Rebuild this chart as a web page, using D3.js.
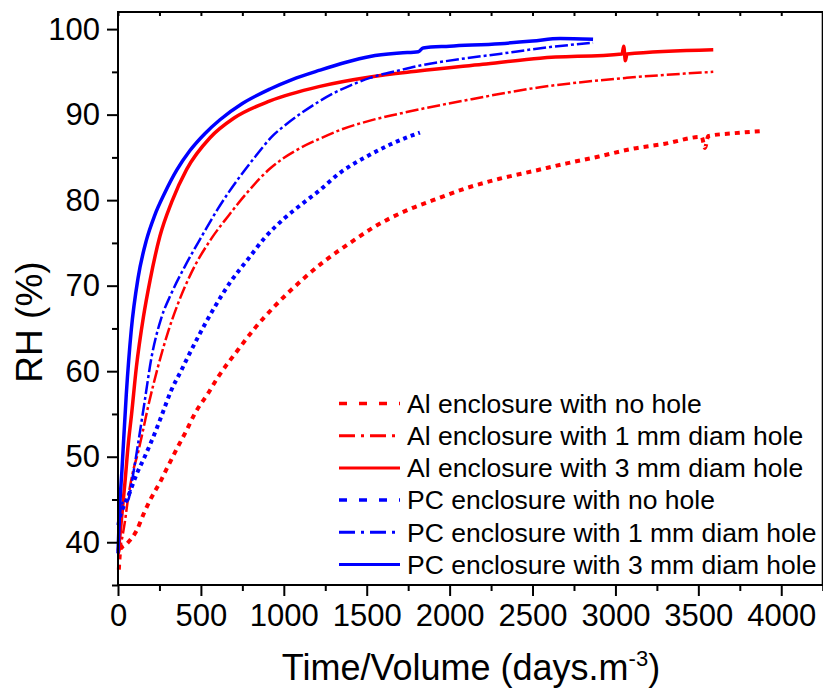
<!DOCTYPE html>
<html>
<head>
<meta charset="utf-8">
<title>RH vs Time/Volume</title>
<script src="https://cdn.jsdelivr.net/npm/d3@7"></script>
<style>
  body { margin: 0; background: #fff; }
  svg { display: block; font-family: "Liberation Sans", Arial, sans-serif; }
</style>
</head>
<body>
<div id="chart"></div>
<script>
// data: time/volume (days.m-3) and RH (%)
var alNoHoleT  = [5, 15, 52, 113, 161, 193, 261, 294, 362, 414, 462, 543, 603, 724, 824, 945, 1106, 1247, 1407, 1548, 1741, 1900, 2100, 2300, 2505, 2706, 2900, 3100, 3300, 3520, 3540, 3560, 3700, 3900];
var alNoHoleRH = [36.8, 39.2, 39.8, 41.4, 43.6, 44.9, 47.3, 48.6, 51.2, 53.1, 55.0, 57.4, 59.3, 62.5, 65.0, 67.6, 70.6, 72.9, 75.1, 76.9, 78.8, 80.0, 81.4, 82.5, 83.4, 84.3, 85.1, 86.0, 86.6, 87.4, 86.1, 87.5, 87.8, 88.1];

var al1mmT  = [2, 20, 40, 62, 92, 121, 150, 181, 241, 302, 362, 442, 563, 663, 784, 917, 997, 1100, 1218, 1339, 1520, 1741, 2103, 2545, 3068, 3590];
var al1mmRH = [38.5, 40.0, 42.2, 45.3, 48.4, 50.5, 53.0, 55.8, 60.5, 64.6, 67.9, 71.5, 75.5, 78.1, 81.0, 83.7, 84.9, 86.1, 87.2, 88.2, 89.3, 90.3, 91.7, 93.2, 94.3, 95.0];

var al3mmT  = [2, 10, 42, 62, 82, 111, 153, 193, 253, 324, 414, 555, 700, 917, 1218, 1520, 1811, 2200, 2545, 3040, 3050, 3060, 3070, 3590];
var al3mmRH = [39.0, 40.5, 47.0, 51.5, 55.0, 60.5, 66.3, 70.6, 75.8, 79.8, 83.6, 87.3, 89.6, 91.6, 93.3, 94.4, 95.1, 95.9, 96.6, 97.1, 98.0, 96.3, 97.1, 97.6];

var pcNoHoleT  = [2, 12, 32, 60, 113, 161, 223, 261, 322, 382, 412, 483, 583, 684, 784, 885, 1005, 1126, 1206, 1339, 1500, 1641, 1750, 1821];
var pcNoHoleRH = [42.0, 43.0, 44.1, 45.3, 48.0, 50.0, 52.8, 54.7, 57.8, 60.1, 61.3, 64.0, 67.5, 70.6, 73.1, 75.6, 77.9, 79.8, 81.0, 83.2, 85.1, 86.5, 87.4, 87.9];

var pc1mmT  = [1, 12, 22, 60, 90, 121, 161, 201, 261, 322, 402, 503, 603, 756, 816, 937, 1017, 1100, 1218, 1300, 1400, 1520, 1701, 1811, 1960, 2300, 2606, 2865];
var pc1mmRH = [40.0, 43.5, 44.5, 44.9, 47.8, 51.5, 56.5, 61.5, 66.2, 69.1, 72.2, 75.7, 79.0, 83.3, 84.8, 87.6, 88.9, 90.1, 91.6, 92.5, 93.4, 94.3, 95.2, 95.7, 96.2, 97.1, 97.9, 98.4];

var pc3mmT  = [0, 10, 24, 50, 80, 121, 171, 221, 281, 354, 434, 525, 615, 750, 917, 1050, 1218, 1370, 1520, 1700, 1811, 1840, 2000, 2304, 2500, 2666, 2865];
var pc3mmRH = [38.7, 44.0, 48.5, 57.3, 64.8, 70.9, 75.3, 78.2, 80.8, 83.5, 85.8, 87.8, 89.4, 91.3, 93.0, 94.1, 95.2, 96.1, 96.8, 97.2, 97.35, 97.8, 98.0, 98.3, 98.6, 98.9, 98.8];

var seriesNames = ["Al enclosure with no hole", "Al enclosure with 1 mm diam hole", "Al enclosure with 3 mm diam hole",
                   "PC enclosure with no hole", "PC enclosure with 1 mm diam hole", "PC enclosure with 3 mm diam hole"];

var xMajorTicks = [0, 500, 1000, 1500, 2000, 2500, 3000, 3500, 4000];
var yMajorTicks = [40, 50, 60, 70, 80, 90, 100];

var width = 823, height = 695;

var svg = d3.select("#chart").append("svg")
    .attr("width", width)
    .attr("height", height);

var x = d3.scaleLinear().domain([0, 4250]).range([118, 822.7]);
var y = d3.scaleLinear().domain([35, 102]).range([585, 12]);

// styles for each series (colour, dash in plot, dash in legend, width)
var styles = [
  {color: "#ff0000", dash: "5,5",        legDash: "8,12",      w: 4},
  {color: "#ff0000", dash: "13,3,3,3",   legDash: "16,6,3,6",  w: 2.5},
  {color: "#ff0000", dash: null,         legDash: null,        w: 3.5},
  {color: "#0000ff", dash: "4,4",        legDash: "8,12",      w: 4},
  {color: "#0000ff", dash: "13,3,3,3",   legDash: "16,6,3,6",  w: 2.5},
  {color: "#0000ff", dash: null,         legDash: null,        w: 3.5}
];

var series = [
  d3.zip(alNoHoleT, alNoHoleRH),
  d3.zip(al1mmT, al1mmRH),
  d3.zip(al3mmT, al3mmRH),
  d3.zip(pcNoHoleT, pcNoHoleRH),
  d3.zip(pc1mmT, pc1mmRH),
  d3.zip(pc3mmT, pc3mmRH)
];

var line = d3.line()
    .x(function(d) { return x(d[0]); })
    .y(function(d) { return y(d[1]); })
    .curve(d3.curveMonotoneX);

// draw the curves
svg.append("g").selectAll("path")
    .data(series)
    .enter()
    .append("path")
    .attr("d", line)
    .attr("fill", "none")
    .attr("stroke", function(d, i) { return styles[i].color; })
    .attr("stroke-width", function(d, i) { return styles[i].w; })
    .attr("stroke-dasharray", function(d, i) { return styles[i].dash; })
    .attr("stroke-linejoin", "round");

// axes
function styleAxis(g) {
  g.select(".domain").remove();
  g.selectAll("line").attr("stroke", "#000").attr("stroke-width", 2);
  g.selectAll("text").attr("fill", "#000").attr("font-family", "Liberation Sans, Arial, sans-serif");
}

var minorX = d3.range(250, 4251, 500);
var minorY = d3.range(35, 100, 10);

var xAxis = svg.append("g")
    .attr("transform", "translate(0," + y(35) + ")")
    .call(d3.axisBottom(x).tickValues(xMajorTicks).tickSize(11).tickPadding(8).tickFormat(d3.format("d")))
    .call(styleAxis);
xAxis.selectAll("text").attr("font-size", 31);

svg.append("g")
    .attr("transform", "translate(0," + y(35) + ")")
    .call(d3.axisBottom(x).tickValues(minorX).tickSize(6).tickFormat(""))
    .call(styleAxis);

var yAxis = svg.append("g")
    .attr("transform", "translate(" + x(0) + ",0)")
    .call(d3.axisLeft(y).tickValues(yMajorTicks).tickSize(11).tickPadding(7).tickFormat(d3.format("d")))
    .call(styleAxis);
yAxis.selectAll("text").attr("font-size", 31);

svg.append("g")
    .attr("transform", "translate(" + x(0) + ",0)")
    .call(d3.axisLeft(y).tickValues(minorY).tickSize(6).tickFormat(""))
    .call(styleAxis);

// top axis, small inward ticks
svg.append("g")
    .attr("transform", "translate(0," + y(102) + ")")
    .call(d3.axisBottom(x).tickValues(d3.range(0, 4251, 250)).tickSize(4).tickFormat(""))
    .call(styleAxis);

// frame
svg.append("path")
    .attr("d", "M" + x(0) + "," + y(35) + "V" + y(102) + "H" + x(4250) + "V" + y(35) + "Z")
    .attr("fill", "none")
    .attr("stroke", "#000")
    .attr("stroke-width", 2);

// axis titles
svg.append("text")
    .attr("x", 471)
    .attr("y", 680)
    .attr("text-anchor", "middle")
    .attr("font-size", 36)
    .text("Time/Volume (days.m")
    .append("tspan").attr("dy", -14).attr("font-size", 22).text("-3")
    .select(function() { return this.parentNode; })
    .append("tspan").attr("dy", 14).attr("font-size", 36).text(")");

svg.append("text")
    .attr("transform", "translate(42,322) rotate(-90)")
    .attr("text-anchor", "middle")
    .attr("font-size", 37)
    .text("RH (%)");

// legend
var legend = svg.append("g").selectAll("g")
    .data(seriesNames)
    .enter()
    .append("g")
    .attr("transform", function(d, i) { return "translate(339," + (403.5 + i * 32.2) + ")"; });

legend.append("line")
    .attr("x1", 0).attr("x2", 61)
    .attr("stroke", function(d, i) { return styles[i].color; })
    .attr("stroke-width", function(d, i) { return i % 3 == 0 ? 3.5 : 3; })
    .attr("stroke-dasharray", function(d, i) { return styles[i].legDash; });

legend.append("text")
    .attr("x", 68)
    .attr("dy", "0.35em")
    .attr("font-size", 26.5)
    .text(function(d) { return d; });
</script>
</body>
</html>
